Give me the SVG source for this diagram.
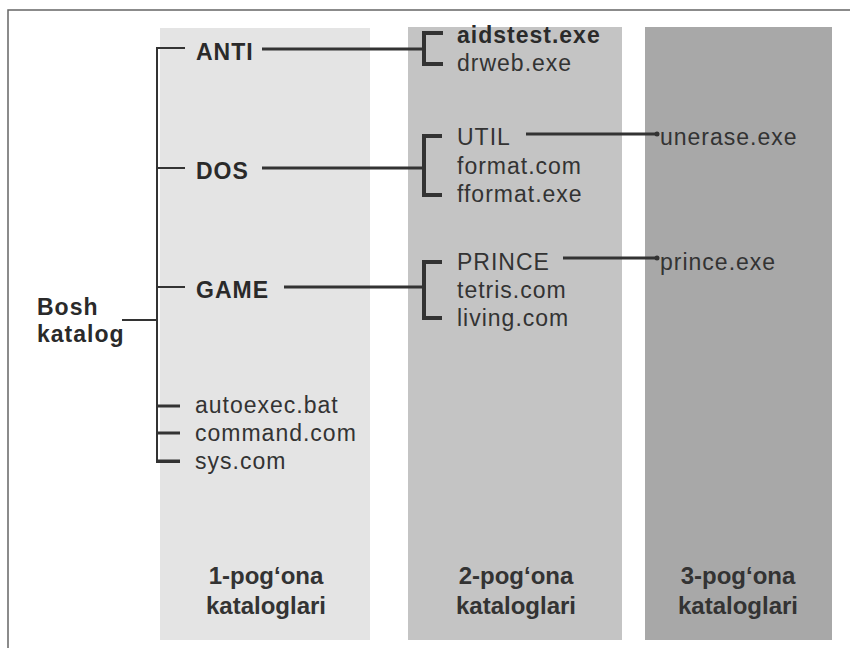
<svg xmlns="http://www.w3.org/2000/svg" width="850" height="648" viewBox="0 0 850 648">
<style>
.t{font-family:"Liberation Sans",Arial,sans-serif;font-size:23px;fill:#333;letter-spacing:1px}
.b{font-weight:bold;fill:#2a2a2a}
.cap{font-family:"Liberation Sans",Arial,sans-serif;font-size:24px;font-weight:bold;fill:#333;text-anchor:middle}
.ln{stroke:#333;fill:none;stroke-width:3}
.tr{stroke:#333;fill:none;stroke-width:2}
.br{stroke:#333;fill:none;stroke-width:4}
</style>
<rect width="850" height="648" fill="#fff"/>
<path d="M8,648 V10 H850" fill="none" stroke="#666" stroke-width="1.5"/>
<g id="columns">
<rect x="160" y="28" width="210" height="612" fill="#e4e4e4"/>
<rect x="408" y="27" width="214" height="613" fill="#c4c4c4"/>
<rect x="645" y="27" width="187" height="613" fill="#a8a8a8"/>
</g>
<g id="connectors">
<path class="tr" d="M185,48 H157 V462 H180"/>
<path class="tr" d="M122,320 H157"/>
<path class="tr" d="M157,168 H185 M157,287 H185"/>
<path class="ln" d="M157,406 H180 M157,433 H180 M157,461 H180"/>
<path class="ln" d="M262,49 H424 M262,168 H424 M284,287 H424"/>
<path class="br" d="M443,33 H424 V64 H443"/>
<path class="br" d="M442,136 H424 V195 H442"/>
<path class="br" d="M442,262 H424 V318 H442"/>
<path class="ln" d="M526,134 H656 M563,258 H656"/>
<circle cx="657" cy="134" r="2.5" fill="#333"/>
<circle cx="657" cy="258" r="2.5" fill="#333"/>
</g>
<g id="root"><text class="t b" x="37" y="315">Bosh</text><text class="t b" x="37" y="342">katalog</text></g>
<g id="ANTI"><text class="t b" x="196" y="60">ANTI</text></g>
<g id="DOS"><text class="t b" x="196" y="179">DOS</text></g>
<g id="GAME"><text class="t b" x="196" y="298">GAME</text></g>
<g id="autoexec"><text class="t" x="195" y="413">autoexec.bat</text></g>
<g id="command"><text class="t" x="195" y="441">command.com</text></g>
<g id="sys"><text class="t" x="195" y="469">sys.com</text></g>
<g id="aidstest"><text class="t b" x="457" y="43">aidstest.exe</text></g>
<g id="drweb"><text class="t" x="457" y="71">drweb.exe</text></g>
<g id="UTIL"><text class="t" x="457" y="145">UTIL</text></g>
<g id="format"><text class="t" x="457" y="174">format.com</text></g>
<g id="fformat"><text class="t" x="457" y="202">fformat.exe</text></g>
<g id="PRINCE"><text class="t" x="457" y="270">PRINCE</text></g>
<g id="tetris"><text class="t" x="457" y="298">tetris.com</text></g>
<g id="living"><text class="t" x="457" y="326">living.com</text></g>
<g id="unerase"><text class="t" x="660" y="145">unerase.exe</text></g>
<g id="princeexe"><text class="t" x="660" y="270">prince.exe</text></g>
<g id="labels">
<text class="cap" x="266" y="584">1-pog‘ona</text>
<text class="cap" x="266" y="614">kataloglari</text>
<text class="cap" x="516" y="584">2-pog‘ona</text>
<text class="cap" x="516" y="614">kataloglari</text>
<text class="cap" x="738" y="584">3-pog‘ona</text>
<text class="cap" x="738" y="614">kataloglari</text>
</g>
</svg>
